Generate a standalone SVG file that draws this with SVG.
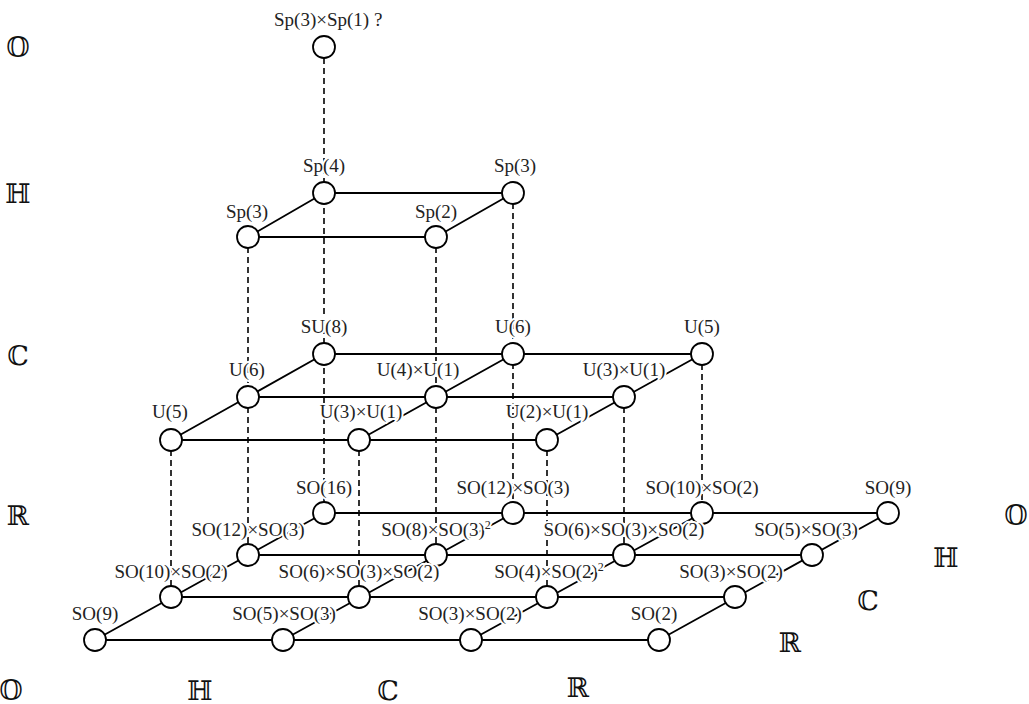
<svg xmlns="http://www.w3.org/2000/svg" width="1029" height="704" viewBox="0 0 1029 704">
<style>
.s{stroke:#000;stroke-width:1.8;fill:none}
.d{stroke:#000;stroke-width:1.6;fill:none;stroke-dasharray:6 4}
circle{fill:#fff;stroke:#000;stroke-width:1.8}
.l{font-family:"Liberation Serif","DejaVu Serif",serif;font-size:19px;fill:#222;text-anchor:middle;stroke:#fff;stroke-width:4;paint-order:stroke;stroke-linejoin:round}
.b{font-family:"DejaVu Serif","DejaVu Sans",serif;font-size:27px;fill:#111;text-anchor:middle}
.sup{font-size:12px}
</style>
<rect width="1029" height="704" fill="#fff"/>
<g id="connectors">
<path class="d" d="M324,58V513M248,237V555M436,237V555M513,193V513M171,440V597M359,440V597M547,440V597M624,397V555M702,354V513"/>
<path class="s" d="M324,193H513M248,237H436M248,237L324,193M436,237L513,193"/>
<path class="s" d="M324,354H702M248,397H624M171,440H547M171,440L324,354M359,440L513,354M547,440L702,354"/>
<path class="s" d="M324,513H888M248,555H812M171,597H735M95,640H659M95,640L324,513M283,640L513,513M471,640L702,513M659,640L888,513"/>
</g>
<g id="axis-labels">
<text class="b" x="18" y="57">𝕆</text>
<text class="b" x="18" y="203">ℍ</text>
<text class="b" x="18" y="365">ℂ</text>
<text class="b" x="18" y="525">ℝ</text>
<text class="b" x="1016" y="525">𝕆</text>
<text class="b" x="946" y="567">ℍ</text>
<text class="b" x="868" y="610">ℂ</text>
<text class="b" x="790" y="652">ℝ</text>
<text class="b" x="11" y="700">𝕆</text>
<text class="b" x="200" y="700">ℍ</text>
<text class="b" x="388" y="700">ℂ</text>
<text class="b" x="578" y="697">ℝ</text>
</g>
<g id="n-top"><circle cx="324" cy="47" r="11"/><text class="l" x="274" y="26" style="text-anchor:start">Sp(3)×Sp(1) ?</text></g>
<g id="n-h1"><circle cx="324" cy="193" r="11"/><text class="l" x="324" y="172">Sp(4)</text></g>
<g id="n-h2"><circle cx="513" cy="193" r="11"/><text class="l" x="515" y="172">Sp(3)</text></g>
<g id="n-h3"><circle cx="248" cy="237" r="11"/><text class="l" x="247" y="218">Sp(3)</text></g>
<g id="n-h4"><circle cx="436" cy="237" r="11"/><text class="l" x="436" y="218">Sp(2)</text></g>
<g id="n-c11"><circle cx="324" cy="354" r="11"/><text class="l" x="324" y="333">SU(8)</text></g>
<g id="n-c12"><circle cx="513" cy="354" r="11"/><text class="l" x="513" y="333">U(6)</text></g>
<g id="n-c13"><circle cx="702" cy="354" r="11"/><text class="l" x="702" y="333">U(5)</text></g>
<g id="n-c21"><circle cx="248" cy="397" r="11"/><text class="l" x="247" y="376">U(6)</text></g>
<g id="n-c22"><circle cx="436" cy="397" r="11"/><text class="l" x="418" y="376">U(4)×U(1)</text></g>
<g id="n-c23"><circle cx="624" cy="397" r="11"/><text class="l" x="624" y="376">U(3)×U(1)</text></g>
<g id="n-c31"><circle cx="171" cy="440" r="11"/><text class="l" x="170" y="418">U(5)</text></g>
<g id="n-c32"><circle cx="359" cy="440" r="11"/><text class="l" x="361" y="418">U(3)×U(1)</text></g>
<g id="n-c33"><circle cx="547" cy="440" r="11"/><text class="l" x="547" y="418">U(2)×U(1)</text></g>
<g id="n-r11"><circle cx="324" cy="513" r="11"/><text class="l" x="324" y="494">SO(16)</text></g>
<g id="n-r12"><circle cx="513" cy="513" r="11"/><text class="l" x="513" y="494">SO(12)×SO(3)</text></g>
<g id="n-r13"><circle cx="702" cy="513" r="11"/><text class="l" x="702" y="494">SO(10)×SO(2)</text></g>
<g id="n-r14"><circle cx="888" cy="513" r="11"/><text class="l" x="888" y="494">SO(9)</text></g>
<g id="n-r21"><circle cx="248" cy="555" r="11"/><text class="l" x="248" y="536">SO(12)×SO(3)</text></g>
<g id="n-r22"><circle cx="436" cy="555" r="11"/><text class="l" x="436" y="536">SO(8)×SO(3)<tspan class="sup" dy="-7">2</tspan></text></g>
<g id="n-r23"><circle cx="624" cy="555" r="11"/><text class="l" x="624" y="536">SO(6)×SO(3)×SO(2)</text></g>
<g id="n-r24"><circle cx="812" cy="555" r="11"/><text class="l" x="806" y="536">SO(5)×SO(3)</text></g>
<g id="n-r31"><circle cx="171" cy="597" r="11"/><text class="l" x="171" y="578">SO(10)×SO(2)</text></g>
<g id="n-r32"><circle cx="359" cy="597" r="11"/><text class="l" x="359" y="578">SO(6)×SO(3)×SO(2)</text></g>
<g id="n-r33"><circle cx="547" cy="597" r="11"/><text class="l" x="549" y="578">SO(4)×SO(2)<tspan class="sup" dy="-7">2</tspan></text></g>
<g id="n-r34"><circle cx="735" cy="597" r="11"/><text class="l" x="731" y="578">SO(3)×SO(2)</text></g>
<g id="n-r41"><circle cx="95" cy="640" r="11"/><text class="l" x="95" y="620">SO(9)</text></g>
<g id="n-r42"><circle cx="283" cy="640" r="11"/><text class="l" x="284" y="620">SO(5)×SO(3)</text></g>
<g id="n-r43"><circle cx="471" cy="640" r="11"/><text class="l" x="470" y="620">SO(3)×SO(2)</text></g>
<g id="n-r44"><circle cx="659" cy="640" r="11"/><text class="l" x="654" y="620">SO(2)</text></g>
</svg>
